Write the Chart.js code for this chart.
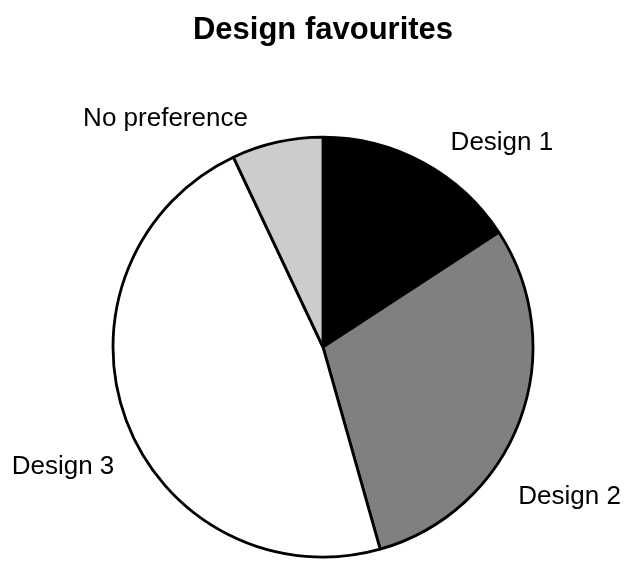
<!DOCTYPE html>
<html>
<head>
<meta charset="utf-8">
<script src="https://cdn.jsdelivr.net/npm/chart.js@4/dist/chart.umd.min.js"></script>
<style>
  html, body { margin: 0; padding: 0; background: #ffffff; }
  #wrap { width: 624px; height: 562px; }
</style>
</head>
<body>
<div id="wrap"><canvas id="c" width="624" height="562"></canvas></div>
<script>
const categories = ["Design 1", "Design 2", "Design 3", "No preference"];
const votes = [9, 17, 27, 4];
const sliceColors = ["#000000", "#808080", "#ffffff", "#cccccc"];

// label placement relative to pie centre, in units of the pie radius
const labelPlacement = [
  { fx: 0.852, fy: -0.974 },
  { fx: 1.174, fy: 0.715 },
  { fx: -1.238, fy: 0.572 },
  { fx: -0.750, fy: -1.087 }
];

const outsideLabels = {
  id: 'outsideLabels',
  afterDatasetsDraw(chart) {
    const ctx = chart.ctx;
    const meta = chart.getDatasetMeta(0);
    ctx.save();
    ctx.font = '26px "Liberation Sans", Arial, sans-serif';
    ctx.fillStyle = '#000000';
    ctx.textAlign = 'center';
    ctx.textBaseline = 'middle';
    meta.data.forEach((arc, i) => {
      const p = labelPlacement[i];
      const r = arc.outerRadius;
      ctx.fillText(chart.data.labels[i], arc.x + p.fx * r, arc.y + p.fy * r);
    });
    ctx.restore();
  }
};

new Chart(document.getElementById('c'), {
  type: 'pie',
  data: {
    labels: categories,
    datasets: [{
      data: votes,
      backgroundColor: sliceColors,
      borderColor: '#000000',
      borderWidth: 2.8
    }]
  },
  options: {
    responsive: false,
    animation: false,
    radius: 210,
    layout: { padding: { left: 22, right: 0, top: 0, bottom: 0 } },
    plugins: {
      legend: { display: false },
      tooltip: { enabled: false },
      title: {
        display: true,
        text: 'Design favourites',
        color: '#000000',
        font: { family: '"Liberation Sans", Arial, sans-serif', size: 31, weight: 'bold', lineHeight: 1.2 },
        padding: { top: 12, bottom: 83 }
      }
    }
  },
  plugins: [outsideLabels]
});
</script>
</body>
</html>
